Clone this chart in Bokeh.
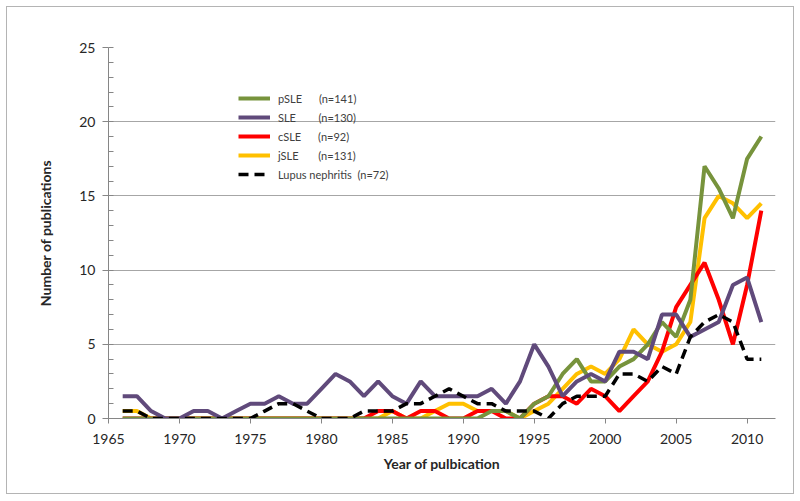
from bokeh.plotting import figure
from bokeh.models import Range1d, Legend, LegendItem, FixedTicker, ColumnDataSource
from bokeh.embed import file_html
from bokeh.resources import INLINE

# ---------------- data ----------------
years = list(range(1966, 2012))

pSLE = [0]*25 + [0, 0.5, 0.5, 0, 1, 1.5, 3, 4, 2.5, 2.5, 3.5, 4, 5, 6.5, 5.5, 8,
                 17, 15.5, 13.5, 17.5, 19]
SLE = [1.5, 1.5, 0.5, 0, 0, 0.5, 0.5, 0, 0.5, 1,
       1, 1.5, 1, 1, 2, 3, 2.5, 1.5, 2.5, 1.5,
       1, 2.5, 1.5, 1.5, 1.5, 1.5, 2, 1, 2.5, 5,
       3.5, 1.5, 2.5, 3, 2.5, 4.5, 4.5, 4, 7, 7,
       5.5, 6, 6.5, 9, 9.5, 6.5]
cSLE = [0]*18 + [0.5, 0.5, 0, 0.5, 0.5, 0, 0, 0.5, 0.5, 0, 0, 1, 1.5, 1.5, 1, 2,
                 1.5, 0.5, 1.5, 2.5, 4.5, 7.5, 9, 10.5, 8, 5, 9, 14]
jSLE = [0.5, 0.5] + [0]*16 + [0, 0.5, 0, 0, 0.5, 1, 1, 0.5, 0.5, 0.5, 0, 0.5, 1, 2,
                              3, 3.5, 3, 4, 6, 5, 4.5, 5, 6.5, 13.5, 15, 14.5, 13.5, 14.5]
LN = [0.5, 0.5] + [0]*8 + [0.5, 1, 1, 0.5, 0, 0, 0, 0.5, 0.5, 0.5,
                           1, 1, 1.5, 2, 1.5, 1, 1, 0.5, 0.5, 0.5,
                           0, 1, 1.5, 1.5, 1.5, 3, 3, 2.5, 3.5, 3,
                           5.5, 6.5, 7, 6.5, 4, 4]

legend_labels = [
    "pSLE\u00a0\u00a0\u00a0\u00a0\u00a0\u00a0(n=141)",
    "SLE\u00a0\u00a0\u00a0\u00a0\u00a0\u00a0\u00a0\u00a0(n=130)",
    "cSLE\u00a0\u00a0\u00a0\u00a0\u00a0\u00a0(n=92)",
    "jSLE\u00a0\u00a0\u00a0\u00a0\u00a0\u00a0\u00a0(n=131)",
    "Lupus nephritis\u00a0\u00a0(n=72)",
]
x_ticks = [1965, 1970, 1975, 1980, 1985, 1990, 1995, 2000, 2005, 2010]
y_ticks = [0, 5, 10, 15, 20, 25]

src = ColumnDataSource(dict(year=years, pSLE=pSLE, SLE=SLE, cSLE=cSLE, jSLE=jSLE, LN=LN))

FONT = "Lato"

p = figure(width=788, height=488, output_backend="svg", toolbar_location=None,
           x_range=Range1d(1965, 2012), y_range=Range1d(0, 25),
           min_border_left=101, min_border_right=20, min_border_top=40, min_border_bottom=77)
p.styles = {"border": "1px solid #b4b4b4", "margin-left": "6px", "margin-top": "6px"}
p.outline_line_color = None
p.background_fill_color = "white"
p.border_fill_color = "white"

# grid
p.xgrid.visible = False
p.ygrid.grid_line_color = "#a6a6a6"
p.ygrid.grid_line_width = 1
p.ygrid.ticker = FixedTicker(ticks=y_ticks)

# axes
p.xaxis.ticker = FixedTicker(ticks=x_ticks)
p.yaxis.ticker = FixedTicker(ticks=y_ticks, minor_ticks=list(range(0, 26)))
for ax in (p.xaxis[0], p.yaxis[0]):
    ax.axis_line_color = "#868686"
    ax.major_tick_line_color = "#868686"
    ax.minor_tick_line_color = "#868686"
    ax.major_label_text_font = FONT
    ax.major_label_text_font_size = "14px"
    ax.major_label_text_color = "#262626"
    ax.axis_label_text_font = FONT
    ax.axis_label_text_font_size = "14px"
    ax.axis_label_text_font_style = "bold"
    ax.axis_label_text_color = "#262626"
p.xaxis.major_tick_out = 5
p.xaxis.major_tick_in = 0
p.xaxis.minor_tick_out = 0
p.xaxis.minor_tick_in = 0
p.xaxis.major_label_standoff = 10
p.xaxis.axis_label = "Year of pulbication"
p.xaxis.axis_label_standoff = 8
p.yaxis.major_tick_out = 6
p.yaxis.major_tick_in = 0
p.yaxis.minor_tick_out = 0
p.yaxis.minor_tick_in = 5
p.yaxis.major_label_standoff = 7
p.yaxis.axis_label = "Number of publications"
p.yaxis.axis_label_standoff = 22

# lines (drawing order: yellow, red, green, purple, black)
r_j = p.line("year", "jSLE", source=src, line_color="#FFC000", line_width=4)
r_c = p.line("year", "cSLE", source=src, line_color="#FF0000", line_width=4)
r_p = p.line("year", "pSLE", source=src, line_color="#77933C", line_width=4)
r_s = p.line("year", "SLE", source=src, line_color="#604A7B", line_width=4)
r_l = p.line("year", "LN", source=src, line_color="black", line_width=3.5, line_dash="10 6")

legend = Legend(items=[
    LegendItem(label=legend_labels[0], renderers=[r_p]),
    LegendItem(label=legend_labels[1], renderers=[r_s]),
    LegendItem(label=legend_labels[2], renderers=[r_c]),
    LegendItem(label=legend_labels[3], renderers=[r_j]),
    LegendItem(label=legend_labels[4], renderers=[r_l]),
], location=(130, 235))
legend.label_text_font = FONT
legend.label_text_font_size = "11px"
legend.label_text_color = "#404040"
legend.glyph_width = 32
legend.glyph_height = 18
legend.label_height = 18
legend.label_standoff = 8
legend.spacing = 1
legend.padding = 0
legend.margin = 0
legend.border_line_alpha = 0
legend.background_fill_alpha = 0
p.add_layout(legend, "center")

open("out.html", "w").write(file_html(p, INLINE))
